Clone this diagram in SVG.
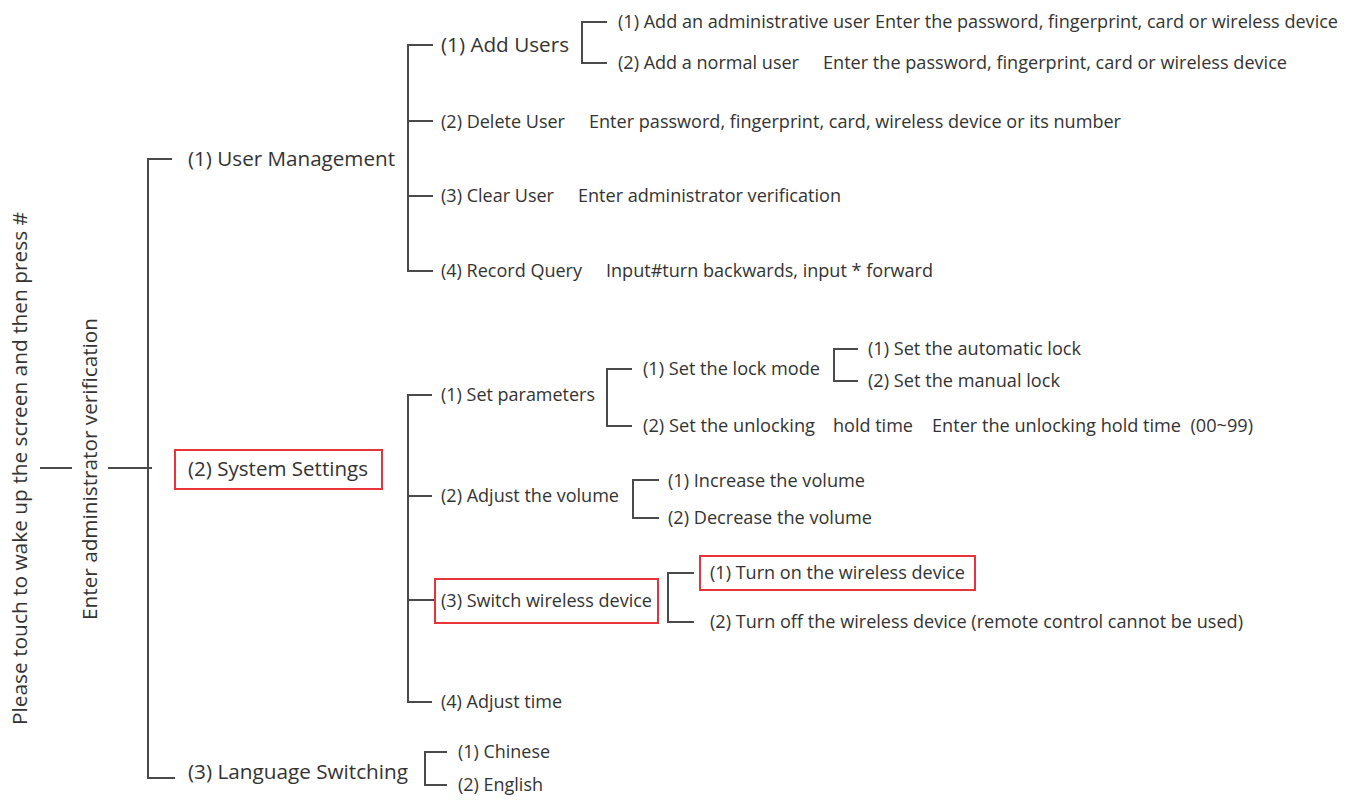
<svg xmlns="http://www.w3.org/2000/svg" width="1356" height="803" viewBox="0 0 1356 803">
<style>
text{font-family:"Open Sans","Noto Sans","Liberation Sans",sans-serif;fill:#333;}
.l1{font-size:20.5px;}
.l2{font-size:18px;}
.ln{stroke:#4a4a4a;stroke-width:2;fill:none;}
.hl{stroke:#e8333a;stroke-width:2;fill:none;}
</style>
<rect width="1356" height="803" fill="#fff"/>
<g id="connectors">
<path class="ln" d="M40 468H72M108 468H152"/>
<path class="ln" d="M172 159H148V778H175"/>
<path class="ln" d="M433 45H408V271H433M408 121H433M408 196H433"/>
<path class="ln" d="M607 22H582V63H607"/>
<path class="ln" d="M432 395H408V702H432M408 496H432M408 600H435"/>
<path class="ln" d="M632 369H607V426H632"/>
<path class="ln" d="M858 349H834V381H858"/>
<path class="ln" d="M659 480H633V518H659"/>
<path class="ln" d="M694 573H668V622H694"/>
<path class="ln" d="M447 752H425V785H447"/>
</g>
<g id="root">
<text class="l1" transform="translate(27 468.5) rotate(-90)" text-anchor="middle" textLength="513" lengthAdjust="spacingAndGlyphs">Please touch to wake up the screen and then press #</text>
</g>
<g id="verify">
<text class="l1" transform="translate(97 469) rotate(-90)" text-anchor="middle" textLength="302" lengthAdjust="spacingAndGlyphs">Enter administrator verification</text>
</g>
<g id="user-management">
<text class="l1" x="188" y="166" textLength="207" lengthAdjust="spacingAndGlyphs">(1) User Management</text>
</g>
<g id="add-users">
<text class="l1" x="441" y="52" textLength="128" lengthAdjust="spacingAndGlyphs">(1) Add Users</text>
</g>
<g id="add-admin">
<text class="l2" x="618" y="28" textLength="720" lengthAdjust="spacingAndGlyphs">(1) Add an administrative user Enter the password, fingerprint, card or wireless device</text>
</g>
<g id="add-normal">
<text class="l2" x="618" y="69" textLength="181" lengthAdjust="spacingAndGlyphs">(2) Add a normal user</text>
<text class="l2" x="823" y="69" textLength="464" lengthAdjust="spacingAndGlyphs">Enter the password, fingerprint, card or wireless device</text>
</g>
<g id="delete-user">
<text class="l2" x="441" y="128" textLength="124" lengthAdjust="spacingAndGlyphs">(2) Delete User</text>
<text class="l2" x="589" y="128" textLength="532" lengthAdjust="spacingAndGlyphs">Enter password, fingerprint, card, wireless device or its number</text>
</g>
<g id="clear-user">
<text class="l2" x="441" y="202" textLength="113" lengthAdjust="spacingAndGlyphs">(3) Clear User</text>
<text class="l2" x="578" y="202" textLength="263" lengthAdjust="spacingAndGlyphs">Enter administrator verification</text>
</g>
<g id="record-query">
<text class="l2" x="441" y="277" textLength="141" lengthAdjust="spacingAndGlyphs">(4) Record Query</text>
<text class="l2" x="606" y="277" textLength="327" lengthAdjust="spacingAndGlyphs">Input#turn backwards, input * forward</text>
</g>
<g id="system-settings">
<rect class="hl" x="175" y="450" width="207" height="39"/>
<text class="l1" x="188" y="476" textLength="180" lengthAdjust="spacingAndGlyphs">(2) System Settings</text>
</g>
<g id="set-parameters">
<text class="l2" x="441" y="401" textLength="154" lengthAdjust="spacingAndGlyphs">(1) Set parameters</text>
</g>
<g id="lock-mode">
<text class="l2" x="643" y="375" textLength="177" lengthAdjust="spacingAndGlyphs">(1) Set the lock mode</text>
</g>
<g id="auto-lock">
<text class="l2" x="868" y="355" textLength="213" lengthAdjust="spacingAndGlyphs">(1) Set the automatic lock</text>
</g>
<g id="manual-lock">
<text class="l2" x="868" y="387" textLength="192" lengthAdjust="spacingAndGlyphs">(2) Set the manual lock</text>
</g>
<g id="unlock-hold">
<text class="l2" x="643" y="432" textLength="172" lengthAdjust="spacingAndGlyphs">(2) Set the unlocking</text>
<text class="l2" x="833" y="432" textLength="80" lengthAdjust="spacingAndGlyphs">hold time</text>
<text class="l2" x="932" y="432" xml:space="preserve" textLength="321" lengthAdjust="spacingAndGlyphs">Enter the unlocking hold time  (00~99)</text>
</g>
<g id="adjust-volume">
<text class="l2" x="441" y="502" textLength="178" lengthAdjust="spacingAndGlyphs">(2) Adjust the volume</text>
</g>
<g id="increase-volume">
<text class="l2" x="668" y="487" textLength="197" lengthAdjust="spacingAndGlyphs">(1) Increase the volume</text>
</g>
<g id="decrease-volume">
<text class="l2" x="668" y="524" textLength="204" lengthAdjust="spacingAndGlyphs">(2) Decrease the volume</text>
</g>
<g id="switch-wireless">
<rect class="hl" x="435" y="579" width="223" height="44"/>
<text class="l2" x="441" y="607" textLength="211" lengthAdjust="spacingAndGlyphs">(3) Switch wireless device</text>
</g>
<g id="wireless-on">
<rect class="hl" x="700" y="556" width="275" height="34"/>
<text class="l2" x="710" y="579" textLength="255" lengthAdjust="spacingAndGlyphs">(1) Turn on the wireless device</text>
</g>
<g id="wireless-off">
<text class="l2" x="710" y="628" textLength="533" lengthAdjust="spacingAndGlyphs">(2) Turn off the wireless device (remote control cannot be used)</text>
</g>
<g id="adjust-time">
<text class="l2" x="441" y="708" textLength="121" lengthAdjust="spacingAndGlyphs">(4) Adjust time</text>
</g>
<g id="language-switching">
<text class="l1" x="188" y="779" textLength="220" lengthAdjust="spacingAndGlyphs">(3) Language Switching</text>
</g>
<g id="chinese">
<text class="l2" x="458" y="758" textLength="92" lengthAdjust="spacingAndGlyphs">(1) Chinese</text>
</g>
<g id="english">
<text class="l2" x="458" y="791" textLength="85" lengthAdjust="spacingAndGlyphs">(2) English</text>
</g>
</svg>
